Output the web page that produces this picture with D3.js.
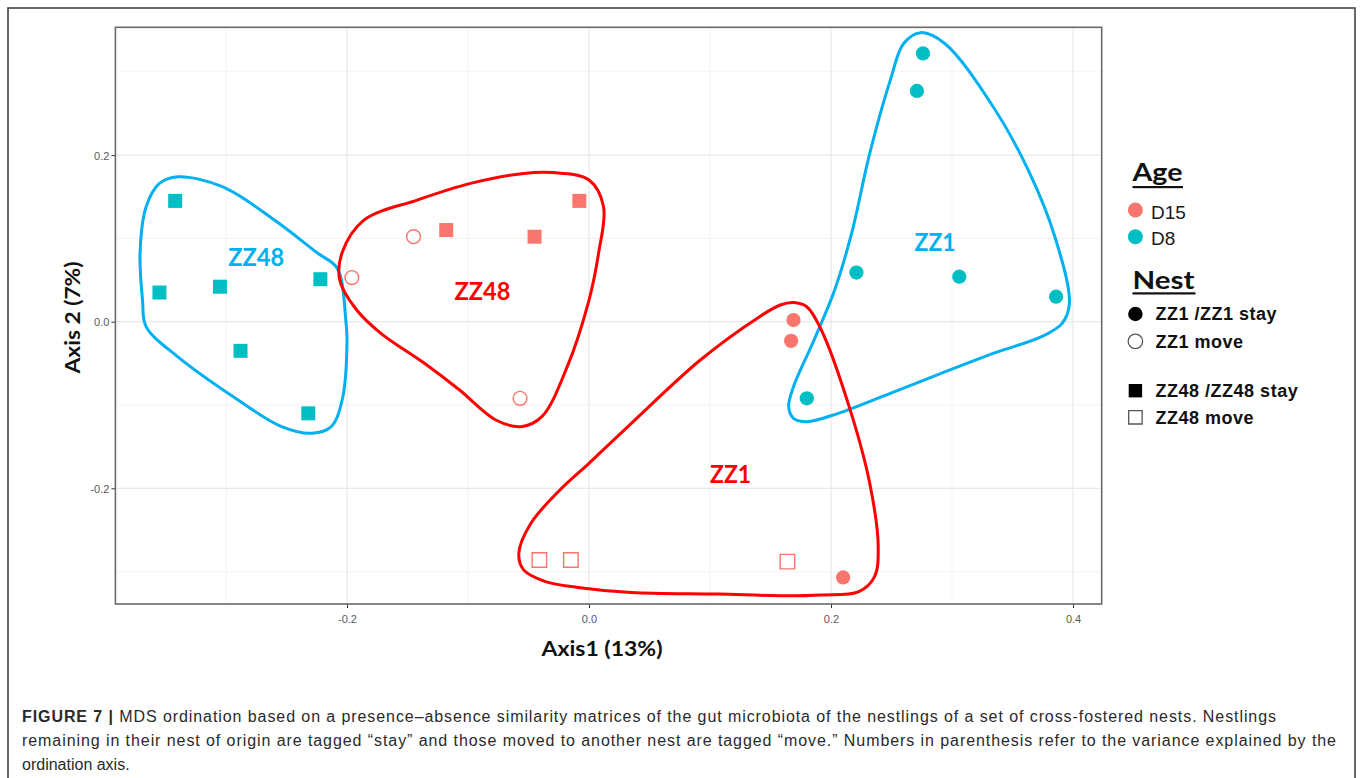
<!DOCTYPE html>
<html><head><meta charset="utf-8">
<script src="https://cdn.jsdelivr.net/npm/d3@7/dist/d3.min.js"></script>
<style>html,body{margin:0;padding:0;background:#fff;} svg{display:block;}</style>
</head><body>
<svg id="chart" width="1360" height="778"></svg>
<script>
// ---------------- data ----------------
const ageLevels = ["D15", "D8"];
const nestLevels = ["ZZ1 /ZZ1 stay", "ZZ1 move", "ZZ48 /ZZ48 stay", "ZZ48 move"];
const xTicks = [-0.2, 0.0, 0.2, 0.4];
const yTicks = [-0.2, 0.0, 0.2];
const xMinor = [-0.3, -0.1, 0.1, 0.3];
const yMinor = [-0.3, -0.1, 0.1, 0.3];

// points: Axis1, Axis2, age, nest
const ptAxis1 = [-0.342, -0.355, -0.305, -0.222, -0.288, -0.232,
                 -0.118, -0.045, -0.008,
                 -0.196, -0.145, -0.057,
                 -0.041, -0.015, 0.164,
                  0.169,  0.167, 0.210,
                  0.276,  0.271, 0.221, 0.306, 0.386, 0.180];
const ptAxis2 = [ 0.145,  0.035,  0.042,  0.051, -0.035, -0.110,
                  0.110,  0.102,  0.145,
                  0.053,  0.102, -0.092,
                 -0.286, -0.286, -0.288,
                  0.002, -0.023, -0.307,
                  0.322,  0.277,  0.059, 0.054, 0.030, -0.092];
const ptAge = ["D8","D8","D8","D8","D8","D8",
               "D15","D15","D15",
               "D15","D15","D15",
               "D15","D15","D15",
               "D15","D15","D15",
               "D8","D8","D8","D8","D8","D8"];
const ptNest = ["ZZ48 /ZZ48 stay","ZZ48 /ZZ48 stay","ZZ48 /ZZ48 stay","ZZ48 /ZZ48 stay","ZZ48 /ZZ48 stay","ZZ48 /ZZ48 stay",
                "ZZ48 /ZZ48 stay","ZZ48 /ZZ48 stay","ZZ48 /ZZ48 stay",
                "ZZ1 move","ZZ1 move","ZZ1 move",
                "ZZ48 move","ZZ48 move","ZZ48 move",
                "ZZ1 /ZZ1 stay","ZZ1 /ZZ1 stay","ZZ1 /ZZ1 stay",
                "ZZ1 /ZZ1 stay","ZZ1 /ZZ1 stay","ZZ1 /ZZ1 stay","ZZ1 /ZZ1 stay","ZZ1 /ZZ1 stay","ZZ1 /ZZ1 stay"];

// hand-drawn group outlines (data coordinates)
const hullBlueZZ48 = [[-0.340,0.174],[-0.303,0.162],[-0.260,0.122],[-0.225,0.083],[-0.208,0.064],[-0.201,0.002],
  [-0.200,-0.022],[-0.204,-0.094],[-0.213,-0.126],[-0.229,-0.134],[-0.254,-0.126],[-0.290,-0.094],[-0.340,-0.042],
  [-0.366,-0.006],[-0.369,0.026],[-0.371,0.083],[-0.366,0.138],[-0.355,0.166]];
const hullRedZZ48 = [[-0.030,0.179],[0.000,0.170],[0.012,0.138],[0.008,0.083],[0.000,0.026],[-0.018,-0.054],
  [-0.039,-0.114],[-0.056,-0.126],[-0.077,-0.118],[-0.107,-0.082],[-0.136,-0.050],[-0.172,-0.014],[-0.192,0.014],
  [-0.206,0.050],[-0.204,0.083],[-0.186,0.122],[-0.142,0.146],[-0.098,0.166],[-0.054,0.178]];
const hullBlueZZ1 = [[0.274,0.347],[0.294,0.334],[0.334,0.258],[0.363,0.182],[0.385,0.102],[0.397,0.022],
  [0.391,-0.002],[0.374,-0.018],[0.334,-0.038],[0.291,-0.062],[0.249,-0.086],[0.206,-0.110],[0.180,-0.120],
  [0.169,-0.116],[0.165,-0.102],[0.169,-0.078],[0.186,-0.022],[0.203,0.038],[0.217,0.106],[0.232,0.202],
  [0.249,0.290],[0.260,0.334]];
const hullRedZZ1 = [[0.169,0.023],[0.180,0.018],[0.192,-0.010],[0.215,-0.102],[0.232,-0.194],[0.239,-0.270],
  [0.236,-0.306],[0.223,-0.324],[0.192,-0.328],[0.163,-0.329],[0.106,-0.327],[0.035,-0.325],[-0.009,-0.319],
  [-0.036,-0.312],[-0.054,-0.298],[-0.058,-0.278],[-0.048,-0.242],[-0.024,-0.202],[0.000,-0.170],[0.035,-0.122],
  [0.092,-0.046],[0.141,0.006],[0.158,0.020]];

const groupLabels = ["ZZ48", "ZZ48", "ZZ1", "ZZ1"];
const groupLabelX = [-0.275, -0.088, 0.286, 0.117];
const groupLabelY = [0.067, 0.026, 0.085, -0.194];
const groupLabelColor = ["#00B0F0", "#FF0000", "#00B0F0", "#FF0000"];

const captionLines = [
  ["FIGURE 7 |", " MDS ordination based on a presence–absence similarity matrices of the gut microbiota of the nestlings of a set of cross-fostered nests. Nestlings"],
  ["", "remaining in their nest of origin are tagged “stay” and those moved to another nest are tagged “move.” Numbers in parenthesis refer to the variance explained by the"],
  ["", "ordination axis."]
];

// ---------------- drawing ----------------
const svg = d3.select("#chart");
const teal = "#00BFC4", salmon = "#F8766D";
const ageColor = d3.scaleOrdinal().domain(ageLevels).range([salmon, teal]);

const L = 115.4, R = 1101.7, T = 27.3, B = 604;
const x = d3.scaleLinear().domain([-0.3914, 0.4237]).range([L, R]);
const y = d3.scaleLinear().domain([-0.3389, 0.3534]).range([B, T]);

// outer figure frame
svg.append("rect").attr("x", 8).attr("y", 8).attr("width", 1347).attr("height", 820)
  .attr("fill", "none").attr("stroke", "#444").attr("stroke-width", 1.6);

// grid
const g = svg.append("g");
g.selectAll(".vmin").data(xMinor).join("line")
  .attr("x1", d => x(d)).attr("x2", d => x(d)).attr("y1", T).attr("y2", B)
  .attr("stroke", "#f0f0f0").attr("stroke-width", 0.8);
g.selectAll(".hmin").data(yMinor).join("line")
  .attr("y1", d => y(d)).attr("y2", d => y(d)).attr("x1", L).attr("x2", R)
  .attr("stroke", "#f0f0f0").attr("stroke-width", 0.8);
g.selectAll(".vmaj").data(xTicks).join("line")
  .attr("x1", d => x(d)).attr("x2", d => x(d)).attr("y1", T).attr("y2", B)
  .attr("stroke", "#e8e8e8").attr("stroke-width", 1.2);
g.selectAll(".hmaj").data(yTicks).join("line")
  .attr("y1", d => y(d)).attr("y2", d => y(d)).attr("x1", L).attr("x2", R)
  .attr("stroke", "#e8e8e8").attr("stroke-width", 1.2);

// axes
const fmt = d => d.toFixed(1);
const xAxis = svg.append("g").attr("transform", `translate(0,${B})`)
  .call(d3.axisBottom(x).tickValues(xTicks).tickFormat(fmt).tickSize(4).tickSizeOuter(0));
const yAxis = svg.append("g").attr("transform", `translate(${L},0)`)
  .call(d3.axisLeft(y).tickValues(yTicks).tickFormat(fmt).tickSize(4).tickSizeOuter(0));
[xAxis, yAxis].forEach(a => {
  a.select(".domain").remove();
  a.selectAll(".tick line").attr("stroke", "#333").attr("stroke-width", 1);
  a.selectAll(".tick text").attr("fill", "#5a5a5a").style("font-family", "'Liberation Sans', Arial, sans-serif").style("font-size", "11px");
});
xAxis.selectAll(".tick text").attr("dy", "0").attr("y", 19);
yAxis.selectAll(".tick text").attr("x", -6).attr("dy", "0.36em");

// panel border
svg.append("rect").attr("x", L).attr("y", T).attr("width", R - L).attr("height", B - T)
  .attr("fill", "none").attr("stroke", "#6a6a6a").attr("stroke-width", 1.6);

// points
const pts = ptAxis1.map((v, i) => ({x: v, y: ptAxis2[i], age: ptAge[i], nest: ptNest[i]}));
const symFor = n => (n.startsWith("ZZ1") ? d3.symbolCircle : d3.symbolSquare);
const sizeFor = n => ({"ZZ1 /ZZ1 stay": 160, "ZZ1 move": 150, "ZZ48 /ZZ48 stay": 196, "ZZ48 move": 210})[n];
const filled = n => n.endsWith("stay");
svg.append("g").selectAll("path").data(pts).join("path")
  .attr("transform", d => `translate(${x(d.x)},${y(d.y)})`)
  .attr("d", d => d3.symbol().type(symFor(d.nest)).size(sizeFor(d.nest))())
  .attr("fill", d => filled(d.nest) ? ageColor(d.age) : "none")
  .attr("stroke", d => filled(d.nest) ? "none" : ageColor(d.age))
  .attr("stroke-width", 1.4);

// outlines
const hullLine = d3.line().x(d => x(d[0])).y(d => y(d[1])).curve(d3.curveCatmullRomClosed.alpha(0.5));
const hulls = [[hullBlueZZ48, "#00B0F0"], [hullRedZZ48, "#FF0000"], [hullBlueZZ1, "#00B0F0"], [hullRedZZ1, "#FF0000"]];
svg.append("g").selectAll("path").data(hulls).join("path")
  .attr("d", d => hullLine(d[0])).attr("fill", "none")
  .attr("stroke", d => d[1]).attr("stroke-width", 3).attr("stroke-linejoin", "round");

// group labels
const calib = "Lato, 'Open Sans', sans-serif";
svg.append("g").selectAll("text").data(groupLabels).join("text")
  .attr("x", (d, i) => x(groupLabelX[i])).attr("y", (d, i) => y(groupLabelY[i]))
  .attr("text-anchor", "middle").attr("fill", (d, i) => groupLabelColor[i])
  .style("font-family", calib).style("font-weight", "700").style("font-size", "25px")
  .attr("textLength", d => d === "ZZ48" ? 56 : 41).attr("lengthAdjust", "spacingAndGlyphs")
  .text(d => d);

// axis titles
svg.append("text").attr("x", 602).attr("y", 656).attr("text-anchor", "middle")
  .style("font-family", calib).style("font-weight", "700").style("font-size", "20px").attr("fill", "#111")
  .attr("textLength", 121).attr("lengthAdjust", "spacingAndGlyphs").text("Axis1 (13%)");
svg.append("text").attr("transform", "translate(80,317.5) rotate(-90)").attr("text-anchor", "middle")
  .style("font-family", calib).style("font-weight", "700").style("font-size", "20px").attr("fill", "#111")
  .attr("textLength", 112).attr("lengthAdjust", "spacingAndGlyphs").text("Axis 2 (7%)");

// legend
const lg = svg.append("g");
const legX = 1135.4;
lg.append("text").attr("x", 1132.5).attr("y", 181).style("font-family", calib).style("font-weight", "700")
  .style("font-size", "25px").attr("fill", "#111").attr("textLength", 50).attr("lengthAdjust", "spacingAndGlyphs").text("Age");
lg.append("rect").attr("x", 1132.5).attr("y", 186).attr("width", 50.5).attr("height", 2.2).attr("fill", "#111");
const ageY = [210, 236.7];
lg.selectAll(".agedot").data(ageLevels).join("circle")
  .attr("cx", legX).attr("cy", (d, i) => ageY[i]).attr("r", 7.5).attr("fill", d => ageColor(d));
lg.selectAll(".agetxt").data(ageLevels).join("text")
  .attr("x", 1151).attr("y", (d, i) => ageY[i] + 8.5)
  .style("font-family", "'Liberation Sans', Arial, sans-serif").style("font-size", "19px").attr("fill", "#1a1a1a")
  .text(d => d);

lg.append("text").attr("x", 1132.5).attr("y", 288.5).style("font-family", calib).style("font-weight", "700")
  .style("font-size", "25px").attr("fill", "#111").attr("textLength", 62).attr("lengthAdjust", "spacingAndGlyphs").text("Nest");
lg.append("rect").attr("x", 1132.5).attr("y", 292.3).attr("width", 63).attr("height", 2.2).attr("fill", "#111");
const nestY = [314, 341.3, 390.7, 417.3];
lg.selectAll(".nestsym").data(nestLevels).join("path")
  .attr("transform", (d, i) => `translate(${legX},${nestY[i]})`)
  .attr("d", d => d3.symbol().type(symFor(d)).size(d.startsWith("ZZ1") ? 165 : 180)())
  .attr("fill", d => filled(d) ? "#000" : "none")
  .attr("stroke", d => filled(d) ? "none" : "#555").attr("stroke-width", 1.3);
lg.selectAll(".nesttxt").data(nestLevels).join("text")
  .attr("x", 1155.6).attr("y", (d, i) => nestY[i] + 6.3)
  .style("font-family", "'Liberation Sans', Arial, sans-serif").style("font-weight", "700")
  .style("font-size", "18px").style("letter-spacing", "0.5px").attr("fill", "#111")
  .text(d => d);

// caption
const capTargets = [1276, 1336, null];
const capY = [722, 746, 770];
captionLines.forEach((ln, i) => {
  const t = svg.append("text").attr("x", 22).attr("y", capY[i])
    .style("font-family", "'Liberation Sans', Arial, sans-serif").style("font-size", "16px").attr("fill", "#2a2a2a");
  if (ln[0]) t.append("tspan").style("font-weight", "700").text(ln[0]);
  t.append("tspan").text(ln[1]);
  if (capTargets[i]) {
    const w = t.node().getComputedTextLength();
    const n = (ln[0] + ln[1]).length;
    const ls = (capTargets[i] - 22 - w) / (n - 1);
    t.style("letter-spacing", ls + "px");
  }
});
</script>
</body></html>
